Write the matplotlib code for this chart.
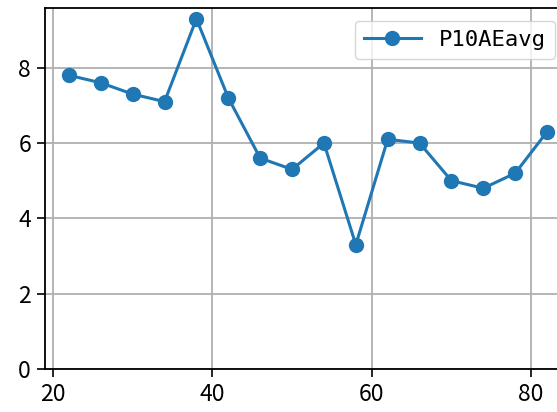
import numpy as np
import matplotlib.pyplot as plt

plt.rcParams['font.family'] = ['Noto Sans CJK SC', 'DejaVu Sans']

# data
ages = [22, 26, 30, 34, 38, 42, 46, 50, 54, 58, 62, 66, 70, 74, 78, 82]
p10aeavg = [7.8, 7.6, 7.3, 7.1, 9.3, 7.2, 5.6, 5.3, 6.0, 3.3, 6.1, 6.0, 5.0, 4.8, 5.2, 6.3]
x_ticks = [20, 40, 60, 80]
y_ticks = [0, 2, 4, 6, 8]

W, H = 557, 412
fig = plt.figure(figsize=(W / 100, H / 100), dpi=100)
# axes runs a bit past the right edge, like the cropped original
ax = fig.add_axes([45 / W, 1 - 369 / H, (571 - 45) / W, (369 - 7.5) / H])

ax.plot(ages, p10aeavg, marker='o', color='#1f77b4', linewidth=2.2,
        markersize=10, label='P10AEavg')

ax.set_xlim(19, 85)
ax.set_ylim(0, 9.6)
ax.set_xticks(x_ticks)
ax.set_yticks(y_ticks)
ax.tick_params(labelsize=16.5, length=6, width=1.2, pad=4)
ax.grid(True, color='#b0b0b0', linewidth=1.3)
for s in ax.spines.values():
    s.set_linewidth(1.3)

ax.legend(loc='upper right', bbox_to_anchor=(555 / W, 1 - 21 / H),
          bbox_transform=fig.transFigure, borderaxespad=0,
          handlelength=2.6, prop={'family': 'DejaVu Sans Mono', 'size': 16})

fig.savefig('out.png', dpi=100)
